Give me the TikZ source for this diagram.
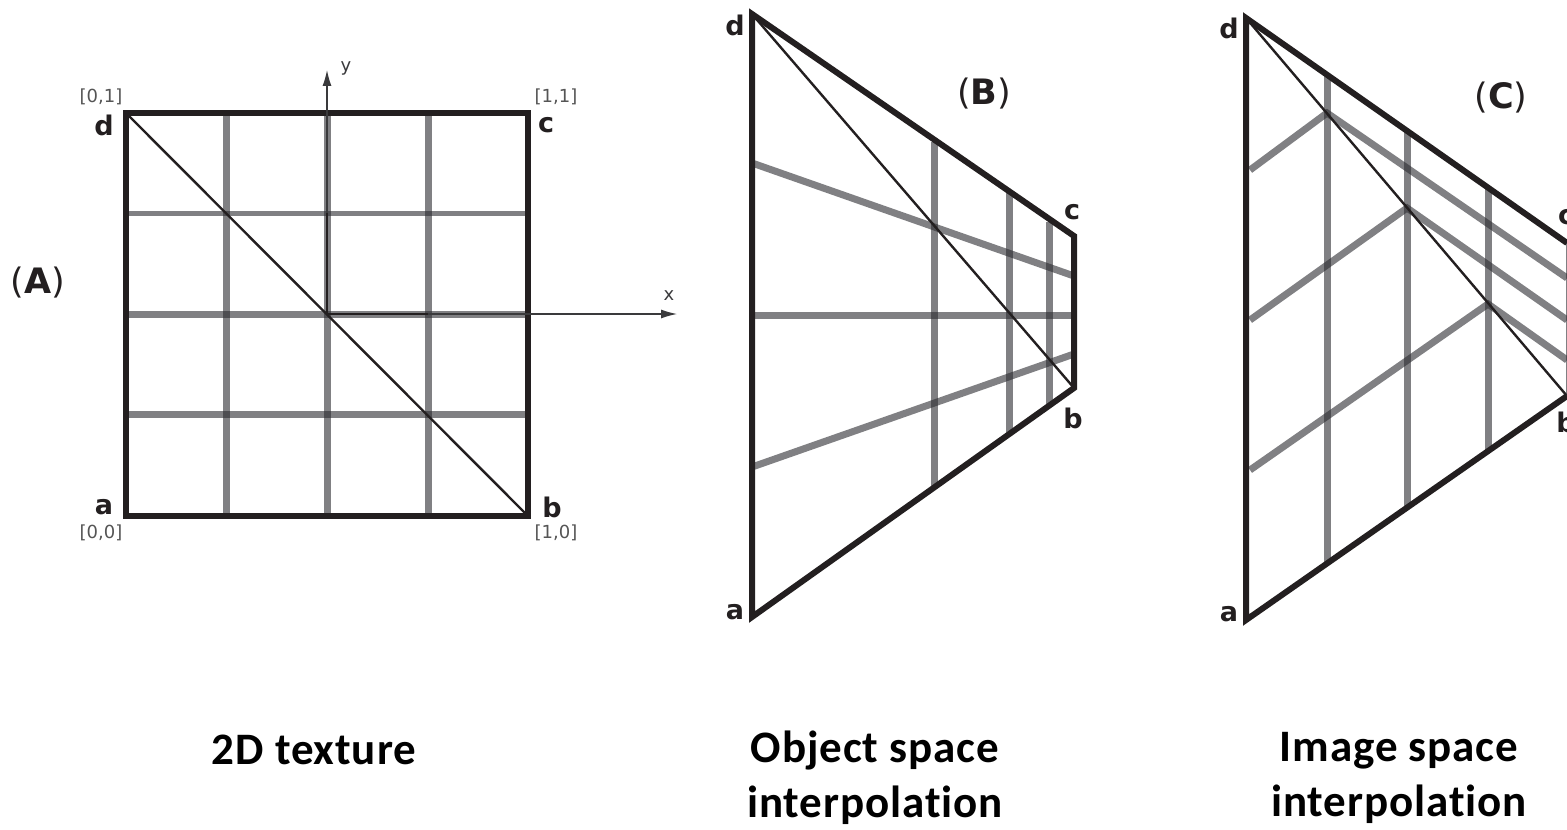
\documentclass[tikz,border=0pt]{standalone}
\usepackage{fontspec}
\setmainfont{DejaVu Sans}
\newfontfamily\captionfont[Ligatures=NoCommon, LetterSpace=2]{Carlito}
\usetikzlibrary{arrows.meta}
\definecolor{medge}{HTML}{231F20}
\definecolor{mgrid}{HTML}{2B2B30}
\definecolor{maxis}{HTML}{3A3A3C}
\definecolor{mcorner}{HTML}{555555}
\tikzset{
  edgeline/.style={draw=medge, line width=3pt, line join=miter},
  diagline/.style={draw=medge, line width=1.2pt},
  gridline/.style={draw=mgrid, line width=3.5pt, opacity=0.6},
  axisline/.style={-{Latex[length=8pt,width=4.5pt]}, draw=maxis, line width=0.6pt},
  vertexlabel/.style={font=\fontsize{13.5}{15}\selectfont\bfseries, text=medge, inner sep=0pt},
  cornerlabel/.style={font=\fontsize{9}{11}\selectfont, text=mcorner, inner sep=0pt},
  axislabel/.style={font=\fontsize{9}{11}\selectfont, text=maxis, inner sep=0pt},
  panellabel/.style={font=\fontsize{17.5}{20}\selectfont, text=medge, inner sep=0pt},
  captionlabel/.style={font=\captionfont\fontsize{22.5}{27.5}\selectfont\bfseries, text=black,
                       align=center, inner sep=0pt},
}
\begin{document}
\begin{tikzpicture}[x=0.5pt, y=-0.5pt]
  \useasboundingbox (0,0) rectangle (1567,829);

  \coordinate (Aa) at (126,516);
  \coordinate (Ab) at (528,516);
  \coordinate (Ac) at (528,113);
  \coordinate (Ad) at (126,113);
  \coordinate (Ao) at (327,314);
  \coordinate (Ax) at (677,314);
  \coordinate (Ay) at (327,70);

  \draw[gridline] (226,113) -- (226,516);
  \draw[gridline] (327,113) -- (327,516);
  \draw[gridline] (428,113) -- (428,516);
  \draw[gridline, line width=2.5pt] (126,213) -- (528,213);
  \draw[gridline] (126,314) -- (528,314);
  \draw[gridline] (126,414) -- (528,414);
  \draw[diagline] (Ad) -- (Ab);
  \draw[edgeline] (Aa) -- (Ab) -- (Ac) -- (Ad) -- cycle;
  \draw[axisline] (Ao) -- (Ax);
  \draw[axisline] (Ao) -- (Ay);
  \draw[draw=medge, line width=1.1pt] (327,213) -- (Ao) -- (428,314);

  \node[vertexlabel] (labAa) at (104,507) {a};
  \node[vertexlabel] (labAb) at (552,507) {b};
  \node[vertexlabel] (labAc) at (546,125) {c};
  \node[vertexlabel] (labAd) at (104,125) {d};
  \node[cornerlabel] (cornAa) at (101,533) {[0,0]};
  \node[cornerlabel] (cornAb) at (556,533) {[1,0]};
  \node[cornerlabel] (cornAc) at (556,97) {[1,1]};
  \node[cornerlabel] (cornAd) at (101,97) {[0,1]};
  \node[axislabel] (labx) at (669,296) {x};
  \node[axislabel] (laby) at (346,68) {y};
  \node[panellabel] (panelA) at (38,283) {(\textbf{A})};

  \coordinate (Ba) at (752,617);
  \coordinate (Bb) at (1074,388);
  \coordinate (Bc) at (1074,236);
  \coordinate (Bd) at (752,14);

  \draw[gridline] (934,142) -- (934,487);
  \draw[gridline] (1009,193) -- (1009,433);
  \draw[gridline] (1049,222) -- (1049,405);
  \draw[gridline] (752,163) -- (1074,276);
  \draw[gridline] (752,315) -- (1074,315);
  \draw[gridline] (752,467) -- (1074,354);
  \draw[diagline] (Bd) -- (Bb);
  \draw[edgeline] (Ba) -- (Bb) -- (Bc) -- (Bd) -- cycle;

  \node[vertexlabel] (labBa) at (735,612) {a};
  \node[vertexlabel] (labBb) at (1073,418) {b};
  \node[vertexlabel] (labBc) at (1072,212) {c};
  \node[vertexlabel] (labBd) at (735,25) {d};
  \node[panellabel] (panelB) at (984,94) {(\textbf{B})};

  \coordinate (Ca) at (1246,620);
  \coordinate (Cb) at (1567,396);
  \coordinate (Cc) at (1567,243);
  \coordinate (Cd) at (1246,18);

  \draw[gridline] (1327,75) -- (1327,563);
  \draw[gridline] (1407,131) -- (1407,508);
  \draw[gridline] (1488,188) -- (1488,451);
  \draw[gridline] (1250,170) -- (1327,113) -- (1567,278);
  \draw[gridline] (1250,320) -- (1407,208) -- (1567,320);
  \draw[gridline] (1250,470) -- (1488,304) -- (1567,360);
  \draw[diagline] (Cd) -- (Cb);
  \draw[edgeline] (Cc) -- (Cd) -- (Ca) -- (Cb);
  \draw[draw=mgrid, opacity=0.6, line width=0.5pt] (1566.5,243) -- (1566.5,396);

  \node[vertexlabel] (labCa) at (1229,614) {a};
  \node[vertexlabel] (labCb) at (1566,422) {b};
  \node[vertexlabel] (labCc) at (1566,217) {c};
  \node[vertexlabel] (labCd) at (1229,28) {d};
  \node[panellabel] (panelC) at (1501,98) {(\textbf{C})};

  \node[captionlabel] (capA) at (314,750) {2D texture};
  \node[captionlabel] (capB) at (875,778) {Object space\\interpolation};
  \node[captionlabel] (capC) at (1399,778) {Image space\\interpolation};
\end{tikzpicture}
\end{document}
